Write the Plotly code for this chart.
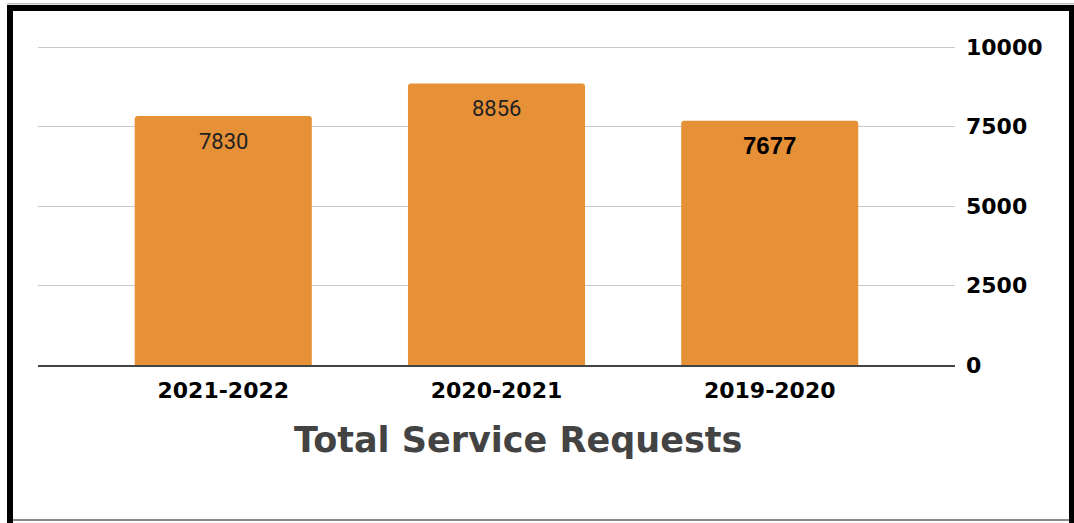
import plotly.graph_objects as go

categories = ["2021-2022", "2020-2021", "2019-2020"]
values = [7830, 8856, 7677]
y_ticks = [0, 2500, 5000, 7500, 10000]
chart_title = "Total Service Requests"

W, H = 1074, 523
L, R, T, B = 38, 955, 40, 365  # plot area in pixels

def px_x(p):
    return (p - L) / (R - L)

def px_y(p):
    return (B - p) / (B - T)

fig = go.Figure()
fig.add_trace(go.Bar(
    x=categories, y=values,
    marker=dict(color="#E69138", cornerradius=3, line=dict(width=0)),
    hoverinfo="skip",
))

label_fonts = [
    dict(family="Roboto", size=22, color="#222222"),
    dict(family="Roboto", size=22, color="#222222"),
    dict(family="Liberation Sans", size=24, color="#000000", weight="bold"),
]
annotations = []
for cat, val, fnt in zip(categories, values, label_fonts):
    annotations.append(dict(
        x=cat, y=val, xref="x", yref="y", text=str(val), showarrow=False,
        yanchor="middle", xanchor="center", yshift=-25, font=fnt,
    ))

annotations.append(dict(
    x=px_x(517.5), y=px_y(440), xref="paper", yref="paper", text=chart_title,
    showarrow=False, xanchor="center", yanchor="middle",
    font=dict(family="DejaVu Sans", size=35, color="#434343", weight="bold"),
))

def rect(x0, y0, x1, y1, color):
    return dict(type="rect", xref="paper", yref="paper",
                x0=px_x(x0), x1=px_x(x1), y0=px_y(y0), y1=px_y(y1),
                fillcolor=color, line=dict(width=0), layer="above")

shapes = [
    rect(7, 3, 1074, 4.6, "#c0c0c0"),
    rect(7, 5, 1074, 11, "#000000"),
    rect(7, 5, 13, 523, "#000000"),
    rect(1069, 5, 1074, 523, "#000000"),
    rect(13, 519, 1069, 521, "#8a8a8a"),
]

fig.update_layout(
    width=W, height=H,
    margin=dict(l=L, r=W - R, t=T, b=H - B, pad=0),
    paper_bgcolor="white", plot_bgcolor="white",
    showlegend=False,
    bargap=0.352,
    annotations=annotations,
    shapes=shapes,
    xaxis=dict(
        range=[-0.678, 2.678],
        showgrid=False, zeroline=False,
        showline=True, linecolor="#444444", linewidth=2,
        ticks="", ticklabelstandoff=5,
        tickfont=dict(family="DejaVu Sans", size=22, color="#000000", weight="bold"),
    ),
    yaxis=dict(
        side="right",
        range=[0, 10220],
        tickvals=y_ticks, ticktext=[str(v) for v in y_ticks],
        showgrid=True, gridcolor="#c8c8c8", gridwidth=1.3,
        zeroline=False, showline=False, ticks="",
        ticklabelstandoff=10,
        tickfont=dict(family="DejaVu Sans", size=22, color="#000000", weight="bold"),
    ),
)

fig.write_html(
    "out.html",
    config={"displayModeBar": False},
    post_script="document.body.style.margin='0';document.body.style.overflow='hidden';",
)
